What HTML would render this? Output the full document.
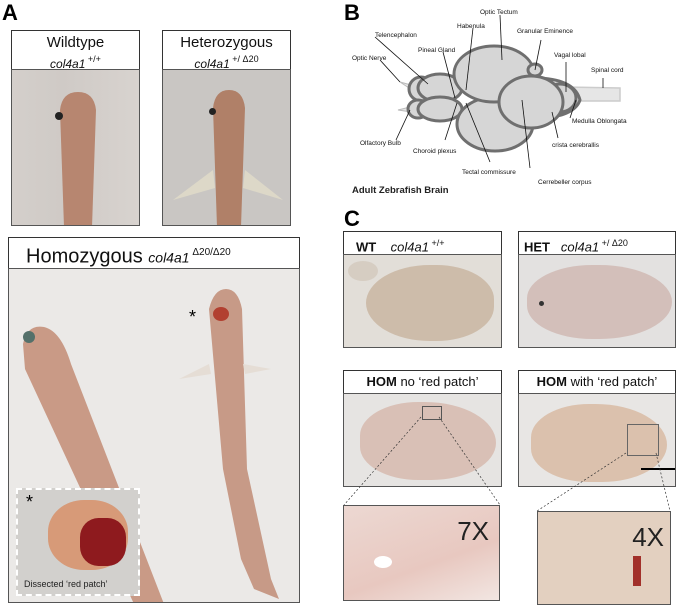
<!DOCTYPE html>
<html><head><style>
body{margin:0;width:678px;height:610px;background:#fff;position:relative;overflow:hidden;font-family:"Liberation Sans",sans-serif}
.a{position:absolute}
.hd{position:absolute;background:#fff;border:1px solid #333;box-sizing:border-box;text-align:center;color:#111}
.ph{position:absolute;border:1px solid #555;box-sizing:border-box;overflow:hidden}
.L{position:absolute;font-weight:bold;font-size:22px;color:#000}
i{font-style:italic}
sup{font-size:9px}
</style></head><body>
<div class="L" style="left:2px;top:0">A</div>
<div class="L" style="left:344px;top:0">B</div>
<div class="L" style="left:344px;top:206px">C</div>

<div class="hd" style="left:11px;top:30px;width:129px;height:40px;font-size:15px;line-height:17px;padding-top:3px">Wildtype<br><i style="font-size:12px">col4a1</i><sup> +/+</sup></div>
<div class="ph" style="left:11px;top:69px;width:129px;height:157px;background:linear-gradient(90deg,#d4cfcb,#cfcac6 40%,#d8d3cf)">
 <svg class="a" style="left:0;top:0" width="129" height="157"><path d="M48,40 Q50,22 66,22 Q82,22 84,40 L80,157 L52,157 Z" fill="#b78670"/></svg>
 <div class="a" style="left:43px;top:42px;width:8px;height:8px;border-radius:50%;background:#222"></div>
</div>
<div class="hd" style="left:162px;top:30px;width:129px;height:40px;font-size:15px;line-height:17px;padding-top:3px">Heterozygous<br><i style="font-size:12px">col4a1</i><sup> +/ Δ20</sup></div>
<div class="ph" style="left:162px;top:69px;width:129px;height:157px;background:#c9c6c3">
 <svg class="a" style="left:0;top:0" width="129" height="157"><path d="M50,38 Q52,20 66,20 Q80,20 82,38 L78,157 L54,157 Z" fill="#b08068"/><path d="M50,100 L10,130 L52,118 Z M82,100 L120,130 L80,118 Z" fill="#ddd8c8"/></svg>
 <div class="a" style="left:46px;top:38px;width:7px;height:7px;border-radius:50%;background:#222"></div>
</div>

<div class="hd" style="left:8px;top:237px;width:292px;height:32px;font-size:20px;line-height:30px;text-align:left;padding-left:17px">Homozygous <i style="font-size:14px">col4a1</i><sup style="font-size:10px"> Δ20/Δ20</sup></div>
<div class="ph" style="left:8px;top:268px;width:292px;height:335px;background:#ebe9e7">
 <svg class="a" style="left:0;top:0" width="292" height="335">
  <path d="M14,75 Q18,55 35,58 Q52,62 62,95 L155,335 L125,335 L16,100 Z" fill="#c99a86"/>
  <path d="M200,40 Q205,20 217,20 Q229,20 233,40 L238,200 L262,310 L270,330 L245,320 L232,290 L214,200 Z" fill="#c79a87"/>
  <path d="M200,95 L170,110 L202,105 Z M234,95 L262,100 L236,105 Z" fill="#e5ddd5"/>
 </svg>
 <div class="a" style="left:14px;top:62px;width:12px;height:12px;border-radius:50%;background:#54706a"></div>
 <div class="a" style="left:204px;top:38px;width:16px;height:14px;border-radius:50%;background:#b24030"></div>
 <div class="a" style="left:180px;top:38px;font-size:18px">*</div>
</div>
<div class="a" style="left:16px;top:488px;width:124px;height:108px;background:#d2d0cd;border:2px dashed #fff;box-sizing:border-box">
 <div class="a" style="left:30px;top:10px;width:80px;height:70px;border-radius:45%;background:#d79a78"></div>
 <div class="a" style="left:62px;top:28px;width:46px;height:48px;border-radius:40%;background:#8e1a1e"></div>
 <div class="a" style="left:8px;top:2px;font-size:18px">*</div>
 <div class="a" style="left:6px;top:89px;font-size:9px;color:#222">Dissected ‘red patch’</div>
</div>

<svg class="a" style="left:0;top:0" width="678" height="200">
<g fill="#d6d6d6" stroke="#6f6f6f" stroke-width="3">
 <polygon points="565,87 620,88 620,101 565,101" fill="#e6e6e6" stroke="#ccc" stroke-width="1.5"/>
 <polygon points="398,110 418,105 418,113" fill="#e6e6e6" stroke="#bbb" stroke-width="1"/>
 <polygon points="400,82 415,86 412,90" fill="#e6e6e6" stroke="#bbb" stroke-width="1"/>
 <path d="M540,78 Q575,80 580,100 Q575,115 545,118 Z"/>
 <ellipse cx="560" cy="98" rx="16" ry="14"/>
 <ellipse cx="421" cy="89" rx="12" ry="12"/>
 <ellipse cx="440" cy="88" rx="22" ry="14"/>
 <ellipse cx="418" cy="109" rx="10" ry="9"/>
 <ellipse cx="440" cy="109" rx="22" ry="12"/>
 <ellipse cx="495" cy="124" rx="38" ry="27"/>
 <ellipse cx="494" cy="74" rx="40" ry="28"/>
 <ellipse cx="531" cy="102" rx="32" ry="26"/>
 <ellipse cx="535" cy="70" rx="7" ry="6"/>
</g>
<g stroke="#111" stroke-width="0.8" fill="none">
 <line x1="380" y1="60" x2="400" y2="82"/><line x1="375" y1="37" x2="428" y2="84"/>
 <line x1="443" y1="52" x2="455" y2="98"/><line x1="473" y1="28" x2="466" y2="90"/>
 <line x1="500" y1="15" x2="502" y2="60"/><line x1="541" y1="40" x2="535" y2="70"/>
 <line x1="566" y1="62" x2="566" y2="92"/><line x1="603" y1="78" x2="603" y2="88"/>
 <line x1="570" y1="118" x2="576" y2="100"/><line x1="558" y1="138" x2="552" y2="112"/>
 <line x1="530" y1="168" x2="522" y2="100"/><line x1="490" y1="162" x2="466" y2="103"/>
 <line x1="445" y1="140" x2="457" y2="103"/><line x1="396" y1="140" x2="410" y2="110"/>
</g>
<g font-size="6.5" fill="#111">
 <text x="480" y="14">Optic Tectum</text><text x="457" y="28">Habenula</text>
 <text x="375" y="37">Telencephalon</text><text x="517" y="33">Granular Eminence</text>
 <text x="418" y="52">Pineal Gland</text><text x="352" y="60">Optic Nerve</text>
 <text x="554" y="57">Vagal lobal</text><text x="591" y="72">Spinal cord</text>
 <text x="572" y="123">Medulla Oblongata</text><text x="552" y="147">crista cerebrallis</text>
 <text x="360" y="145">Olfactory Bulb</text><text x="413" y="153">Choroid plexus</text>
 <text x="462" y="174">Tectal commissure</text><text x="538" y="184">Cerrebeller corpus</text>
</g>
<text x="352" y="193" font-size="9.5" font-weight="bold" fill="#222">Adult Zebrafish Brain</text>
</svg>

<div class="hd" style="left:343px;top:231px;width:159px;height:24px;font-size:13px;line-height:22px;text-align:left;padding-left:12px"><b>WT</b> &nbsp;&nbsp; <i>col4a1</i><sup> +/+</sup></div>
<div class="ph" style="left:343px;top:254px;width:159px;height:94px;background:#e2ded8"><div class="a" style="left:22px;top:10px;width:128px;height:76px;border-radius:50% 45% 45% 50%;background:#cdbcaa"></div><div class="a" style="left:4px;top:6px;width:30px;height:20px;border-radius:50%;background:#d6cdc2"></div></div>
<div class="hd" style="left:518px;top:231px;width:158px;height:24px;font-size:13px;line-height:22px;text-align:left;padding-left:5px"><b>HET</b> &nbsp; <i>col4a1</i><sup> +/ Δ20</sup></div>
<div class="ph" style="left:518px;top:254px;width:158px;height:94px;background:#e3e1e0"><div class="a" style="left:8px;top:10px;width:145px;height:74px;border-radius:45% 50% 50% 45%;background:#d3bfba"></div><div class="a" style="left:20px;top:46px;width:5px;height:5px;border-radius:50%;background:#333"></div></div>

<div class="hd" style="left:343px;top:370px;width:159px;height:24px;font-size:13px;line-height:22px"><b>HOM</b> no ‘red patch’</div>
<div class="ph" style="left:343px;top:393px;width:159px;height:94px;background:#e6e4e2"><div class="a" style="left:16px;top:8px;width:136px;height:78px;border-radius:45% 55% 50% 45%;background:#d9c0b6"></div><div class="a" style="left:78px;top:12px;width:18px;height:12px;border:1px solid #555"></div></div>
<div class="hd" style="left:518px;top:370px;width:158px;height:24px;font-size:13px;line-height:22px"><b>HOM</b> with ‘red patch’</div>
<div class="ph" style="left:518px;top:393px;width:158px;height:94px;background:#e8e6e4"><div class="a" style="left:12px;top:10px;width:136px;height:78px;border-radius:45% 55% 50% 45%;background:#dbc1ad"></div><div class="a" style="left:108px;top:30px;width:30px;height:30px;border:1px solid #666"></div><div class="a" style="left:122px;top:74px;width:34px;height:2px;background:#000"></div></div>

<svg class="a" style="left:0;top:0" width="678" height="610"><g stroke="#333" stroke-width="0.7" stroke-dasharray="2,2">
<line x1="421" y1="417" x2="344" y2="505"/><line x1="439" y1="417" x2="500" y2="505"/>
<line x1="626" y1="453" x2="537" y2="511"/><line x1="656" y1="453" x2="670" y2="511"/></g></svg>
<div class="ph" style="left:343px;top:505px;width:157px;height:96px;background:linear-gradient(160deg,#ecd8d2,#e8c8c0 60%,#f2e6e2)"><div class="a" style="right:10px;top:10px;font-size:26px;color:#222">7X</div><div class="a" style="left:30px;top:50px;width:18px;height:12px;border-radius:50%;background:#fff"></div></div>
<div class="ph" style="left:537px;top:511px;width:134px;height:94px;background:#e3d0c0"><div class="a" style="right:6px;top:10px;font-size:26px;color:#222">4X</div><div class="a" style="left:95px;top:44px;width:8px;height:30px;background:#a2302a"></div></div>
</body></html>
